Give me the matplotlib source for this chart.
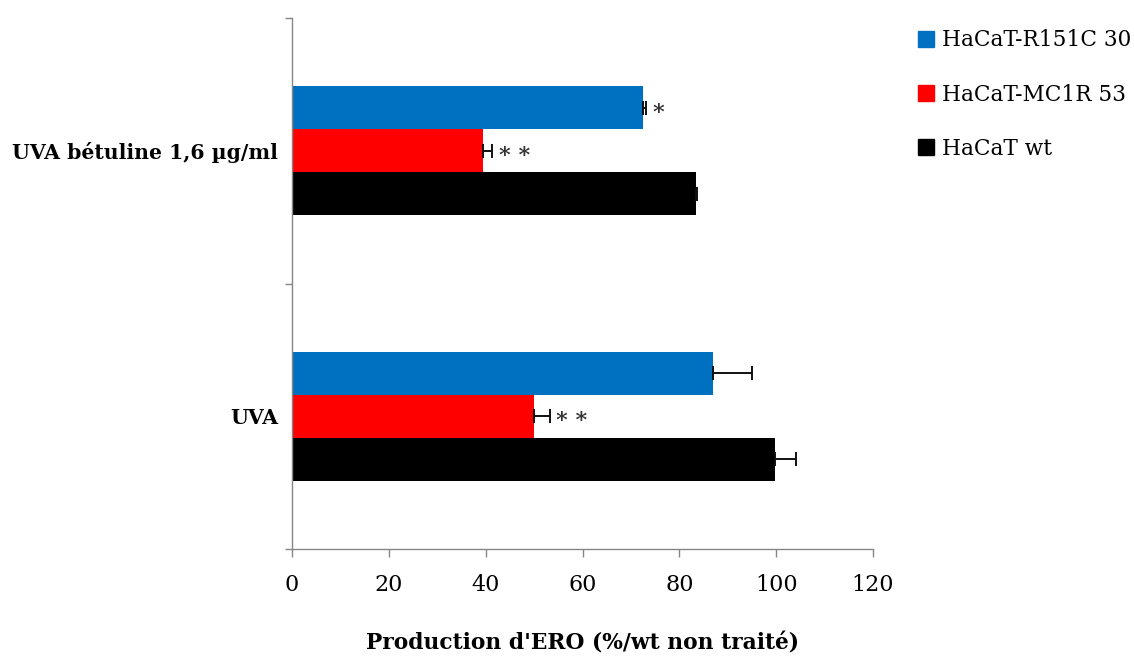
import matplotlib
matplotlib.use('Agg')
import matplotlib.pyplot as plt
from matplotlib.lines import Line2D

categories = ['UVA', 'UVA bétuline 1,6 µg/ml']
series_names = ['HaCaT-R151C 30', 'HaCaT-MC1R 53', 'HaCaT wt']
r151c = [87, 72.5]
mc1r = [50, 39.5]
wt = [99.8, 83.4]
r151c_err = [8, 0.6]
mc1r_err = [3.3, 1.9]
wt_err = [4.2, 0.3]
r151c_sig = ['', '*']
mc1r_sig = ['* *', '* *']
wt_sig = ['', '']

colors = ['#0070c0', '#ff0000', '#000000']
plt.rcParams['font.family'] = ['DejaVu Serif']

fig = plt.figure(figsize=(11.34, 6.57), dpi=100)
ax = fig.add_axes([292 / 1134, 1 - 549 / 657, 581 / 1134, 531 / 657])

h = 0.162
ypos = [0, 1]
series = [(r151c, r151c_err, r151c_sig, h), (mc1r, mc1r_err, mc1r_sig, 0), (wt, wt_err, wt_sig, -h)]
for (vals, errs, sigs, off), c in zip(series, colors):
    ys = [y + off for y in ypos]
    ax.barh(ys, vals, height=h, color=c, edgecolor='none')
    ax.errorbar(vals, ys, xerr=[[0] * len(errs), errs], fmt='none', ecolor='#111111',
                elinewidth=1.4, capsize=5, capthick=1.4)
    for v, e, y, s in zip(vals, errs, ys, sigs):
        if s:
            ax.text(v + e + 1.3, y - 0.042, s, ha='left', va='baseline', fontsize=16,
                    fontweight='bold', color='#333333')

ax.set_xlim(0, 120)
ax.set_ylim(-0.5, 1.5)
ax.set_xticks(range(0, 121, 20))
ax.set_yticks([-0.5, 0.5, 1.5])
ax.set_yticklabels([])
ax.set_yticks(ypos, minor=True)
ax.set_yticklabels(categories, minor=True, fontsize=14.7, fontweight='bold')
ax.tick_params(axis='y', which='minor', length=0, pad=10)
ax.tick_params(axis='y', which='major', length=5, color='#868686', width=1)
ax.tick_params(axis='x', length=6, color='#868686', width=1, pad=12, labelsize=16)

for s in ['top', 'right']:
    ax.spines[s].set_visible(False)
for s in ['left', 'bottom']:
    ax.spines[s].set_color('#868686')
    ax.spines[s].set_linewidth(1)

ax.set_xlabel("Production d'ERO (%/wt non traité)", fontsize=15.7, fontweight='bold', labelpad=26)

handles = [Line2D([], [], marker='s', linestyle='none', color=c, markersize=11) for c in colors]
fig.legend(handles, series_names, loc='upper left', bbox_to_anchor=(898 / 1134, 1 - 10 / 657),
           frameon=False, fontsize=15.6, handlelength=0.8, handletextpad=0.35, labelspacing=1.48)

plt.savefig('out.png')
